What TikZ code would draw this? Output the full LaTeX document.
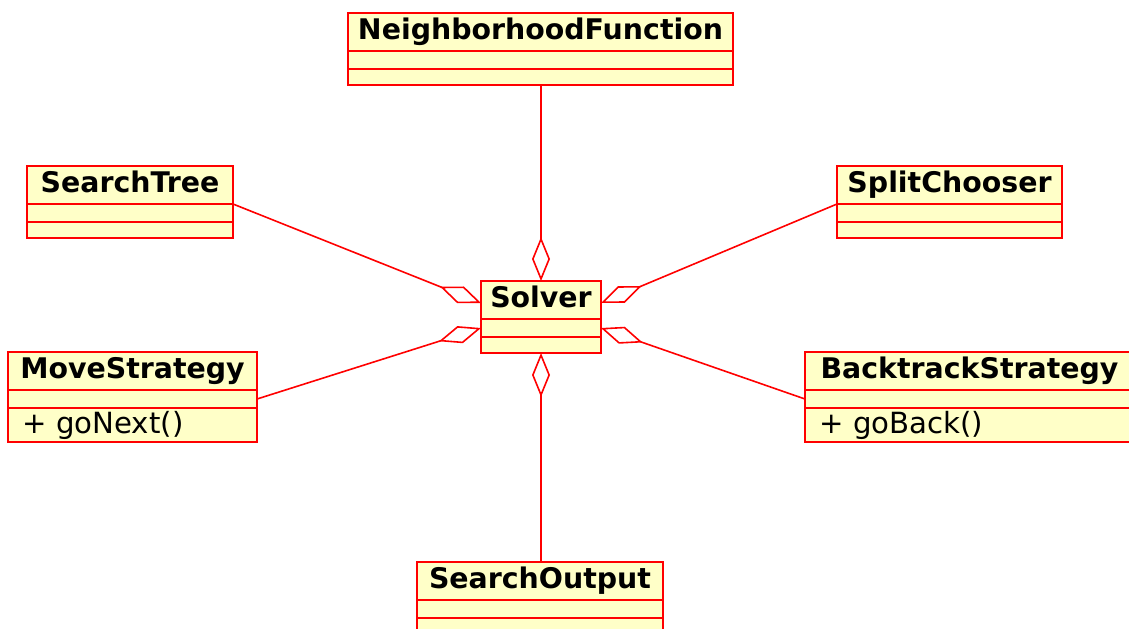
\documentclass[tikz,border=0pt]{standalone}
\usepackage{fontspec}
\setmainfont{DejaVu Sans}
\usetikzlibrary{arrows.meta}
\definecolor{umlfill}{RGB}{255,255,200}
\definecolor{umlline}{RGB}{255,0,0}

\begin{document}
\begin{tikzpicture}[x=0.5pt,y=-0.5pt,
    classtitle/.style={draw=umlline, fill=umlfill, line width=1pt, inner sep=0pt, outer sep=0pt,
      minimum height=19pt, text height=10pt, text depth=3pt,
      font=\fontsize{14.2}{16}\selectfont\bfseries, anchor=north west},
    classattr/.style={draw=umlline, fill=umlfill, line width=1pt, inner sep=0pt, outer sep=0pt,
      minimum height=9pt, anchor=north west},
    classops/.style={draw=umlline, fill=umlfill, line width=1pt, inner sep=0pt, outer sep=0pt,
      minimum height=8pt, anchor=north west},
    opslist/.style={inner xsep=7pt, align=left, minimum height=17pt,
      text height=10pt, text depth=2pt, font=\fontsize{14.6}{16}\selectfont},
    agg/.style={draw=umlline, line width=0.8pt, -{Diamond[open,length=22pt,width=9pt]}}]
    \useasboundingbox (0,0) rectangle (1129,628);

    % centre class
    \node[classtitle, minimum width=60pt] (solver) at (481,281) {Solver};
    \node[classattr, minimum width=60pt] (solver-attr) at (solver.south west) {};
    \node[classops, minimum width=60pt] (solver-ops) at (solver-attr.south west) {};

    % top
    \node[classtitle, minimum width=192.5pt] (nbh) at (348,13) {NeighborhoodFunction};
    \node[classattr, minimum width=192.5pt] (nbh-attr) at (nbh.south west) {};
    \node[classops, minimum width=192.5pt] (nbh-ops) at (nbh-attr.south west) {};

    % left side
    \node[classtitle, minimum width=103pt] (stree) at (27,166) {SearchTree};
    \node[classattr, minimum width=103pt] (stree-attr) at (stree.south west) {};
    \node[classops, minimum width=103pt] (stree-ops) at (stree-attr.south west) {};

    \node[classtitle, minimum width=124.5pt] (move) at (8,352) {MoveStrategy};
    \node[classattr, minimum width=124.5pt] (move-attr) at (move.south west) {};
    \node[classops, opslist, text width=110.5pt] (move-ops) at (move-attr.south west) {+ goNext()};

    % right side
    \node[classtitle, minimum width=112.5pt] (split) at (837,166) {SplitChooser};
    \node[classattr, minimum width=112.5pt] (split-attr) at (split.south west) {};
    \node[classops, minimum width=112.5pt] (split-ops) at (split-attr.south west) {};

    \node[classtitle, minimum width=164.5pt] (btrack) at (805,352) {BacktrackStrategy};
    \node[classattr, minimum width=164.5pt] (btrack-attr) at (btrack.south west) {};
    \node[classops, opslist, text width=150.5pt] (btrack-ops) at (btrack-attr.south west) {+ goBack()};

    % bottom
    \node[classtitle, minimum width=123pt] (sout) at (417,562) {SearchOutput};
    \node[classattr, minimum width=123pt] (sout-attr) at (sout.south west) {};
    \node[classops, minimum width=123pt] (sout-ops) at (sout-attr.south west) {};

    % aggregations
    \draw[agg] (solver.north |- nbh-ops.south) -- (solver.north);
    \draw[agg] (solver.south |- sout.north) -- (solver-ops.south);
    \draw[agg] (stree.south east) -- ([yshift=-1.5pt]solver.west);
    \draw[agg] (move-attr.east) -- (solver-attr.west);
    \draw[agg] (split.south west) -- ([yshift=-1.5pt]solver.east);
    \draw[agg] (btrack-attr.west) -- (solver-attr.east);
  \end{tikzpicture}
\end{document}
